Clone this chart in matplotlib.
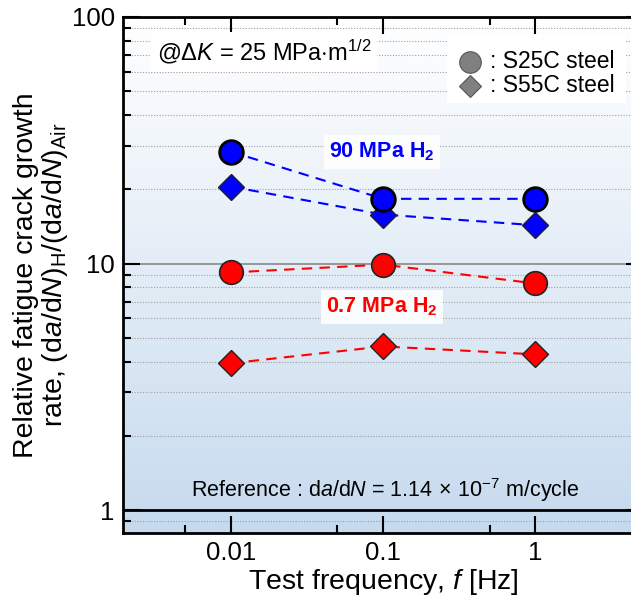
import matplotlib.pyplot as plt
import numpy as np
from matplotlib.colors import LinearSegmentedColormap
from matplotlib.patches import Rectangle
from matplotlib.ticker import FixedLocator, NullFormatter

plt.rcParams['font.family'] = ['Liberation Sans', 'DejaVu Sans']
plt.rcParams['mathtext.fontset'] = 'custom'
plt.rcParams['mathtext.rm'] = 'Liberation Sans'
plt.rcParams['mathtext.it'] = 'Liberation Sans:italic'
plt.rcParams['mathtext.bf'] = 'Liberation Sans:bold'

# test frequency [Hz]
freq = [0.01, 0.1, 1]
# relative FCGR
s25c_90 = [28.4, 18.3, 18.3]
s55c_90 = [20.5, 15.8, 14.3]
s25c_07 = [9.2, 9.9, 8.3]
s55c_07 = [3.94, 4.61, 4.28]

xticks = [0.01, 0.1, 1]
xtick_labels = ['0.01', '0.1', '1']
yticks = [1, 10, 100]
ytick_labels = ['1', '10', '100']

blue = '#0000ff'
red = '#ff0000'

fig = plt.figure(figsize=(6.31, 6.10), dpi=100)
ax = fig.add_axes([123/631, 1 - 533/610, 520/631, 516/610])

ax.set_xscale('log')
ax.set_yscale('log')
ax.set_xlim(0.00195, 5.1)
ax.set_ylim(0.807, 100)

# background gradient white (top) -> light blue (bottom)
cmap = LinearSegmentedColormap.from_list('bg', ['#ffffff', '#c6daee'])
grad = np.linspace(0, 1, 256).reshape(-1, 1)
ax.imshow(grad, cmap=cmap, aspect='auto', extent=[0, 1, 0, 1],
          transform=ax.transAxes, zorder=0)

# grid lines
minor_y = [v * d for d in [0.1, 1, 10] for v in range(2, 10)]
minor_y = [v for v in minor_y if 0.85 < v < 100]
for v in minor_y:
    ax.axhline(v, color='#a0a0a0', lw=0.8, ls=(0, (1, 1.5)), zorder=1)
ax.axhline(10, color='#888888', lw=1.2, zorder=1)
ax.axhline(1, color='black', lw=2, zorder=2)

ax.plot(freq, s25c_90, ls='--', color=blue, lw=1.5, dashes=(5, 3.5), zorder=3)
ax.plot(freq, s55c_90, ls='--', color=blue, lw=1.5, dashes=(5, 3.5), zorder=3)
ax.plot(freq, s25c_07, ls='--', color=red, lw=1.5, dashes=(5, 3.5), zorder=3)
ax.plot(freq, s55c_07, ls='--', color=red, lw=1.5, dashes=(5, 3.5), zorder=3)

ax.plot(freq, s55c_90, 'D', ms=13, mfc=blue, mec='#222222', mew=1.0, zorder=4)
ax.plot(freq, s25c_90, 'o', ms=17, mfc=blue, mec='black', mew=2.0, zorder=5)
ax.plot(freq, s55c_07, 'D', ms=13, mfc=red, mec='#222222', mew=1.0, zorder=4)
ax.plot(freq, s25c_07, 'o', ms=17, mfc=red, mec='#222222', mew=1.2, zorder=5)

ax.xaxis.set_major_locator(FixedLocator(xticks))
ax.set_xticklabels(xtick_labels)
ax.xaxis.set_minor_locator(FixedLocator([0.005, 0.05, 0.5]))
ax.xaxis.set_minor_formatter(NullFormatter())
ax.yaxis.set_major_locator(FixedLocator(yticks))
ax.set_yticklabels(ytick_labels)
ax.yaxis.set_minor_locator(FixedLocator(minor_y))
ax.yaxis.set_minor_formatter(NullFormatter())

ax.tick_params(which='both', direction='in', top=True, right=True,
               labelsize=18.5, width=1.5, pad=6)
ax.tick_params(which='major', length=12)
ax.tick_params(which='minor', length=6)
for s in ax.spines.values():
    s.set_linewidth(2)

ax.set_xlabel('Test frequency, $f$ [Hz]', fontsize=20.5, labelpad=1)
ax.set_ylabel('Relative fatigue crack growth\n'
              r'rate, (d$a$/d$N$)$_{\rm H}$/(d$a$/d$N$)$_{\rm Air}$',
              fontsize=20.5, labelpad=1, linespacing=1.05)

ax.text(0.065, 0.932, r'@$\Delta K$ = 25 MPa$\cdot$m$^{1/2}$', transform=ax.transAxes,
        fontsize=17, va='center', ha='left', zorder=6,
        bbox=dict(facecolor='white', edgecolor='none', pad=4))

# legend box
ax.add_patch(Rectangle((0.623, 0.833), 0.345, 0.132, transform=ax.transAxes,
                       facecolor='white', edgecolor='none', zorder=6))
ax.text(0.705, 0.913, ': S25C steel', transform=ax.transAxes, fontsize=16.5,
        va='center', ha='left', zorder=7)
ax.text(0.705, 0.867, ': S55C steel', transform=ax.transAxes, fontsize=16.5,
        va='center', ha='left', zorder=7)
ax.plot([0.667], [0.913], 'o', ms=15.5, mfc='#808080', mec='#555555', mew=0.8,
        transform=ax.transAxes, zorder=7)
ax.plot([0.667], [0.867], 'D', ms=11.5, mfc='#808080', mec='#555555', mew=0.8,
        transform=ax.transAxes, zorder=7)

ax.text(0.498, 0.738, r'90 MPa H$_\mathbf{2}$', transform=ax.transAxes,
        fontsize=15.5, fontweight='bold', color=blue, ha='center', va='center', zorder=6,
        bbox=dict(facecolor='white', edgecolor='none', pad=4, alpha=0.9))
ax.text(0.498, 0.438, r'0.7 MPa H$_\mathbf{2}$', transform=ax.transAxes,
        fontsize=15.5, fontweight='bold', color=red, ha='center', va='center', zorder=6,
        bbox=dict(facecolor='white', edgecolor='none', pad=4, alpha=0.9))

ax.text(0.504, 0.083, r'Reference : d$a$/d$N$ = 1.14$\,\times\,$10$^{-7}$ m/cycle',
        transform=ax.transAxes, fontsize=15.5, ha='center', va='center', zorder=6)

fig.savefig('out.png', dpi=100)
